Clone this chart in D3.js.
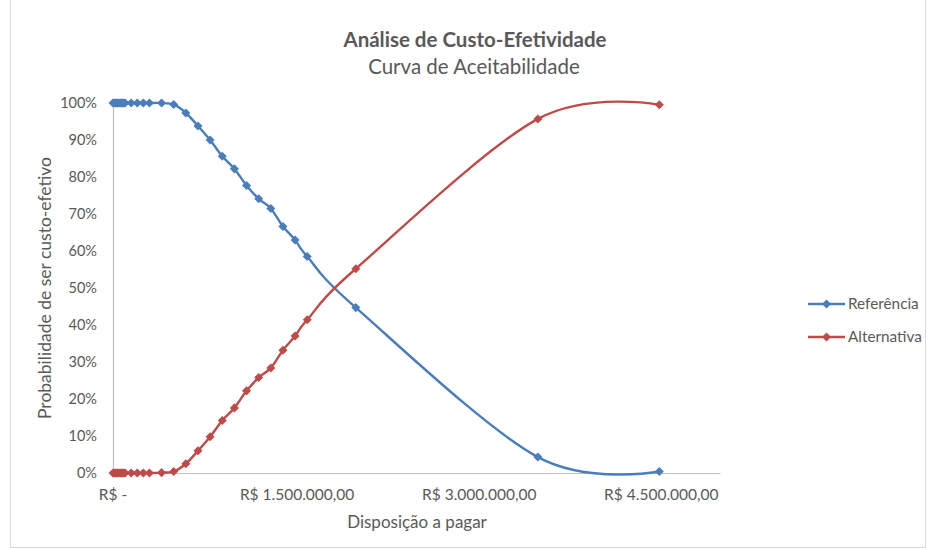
<!DOCTYPE html>
<html>
<head>
<meta charset="utf-8">
<script src="https://cdn.jsdelivr.net/npm/d3@7/dist/d3.min.js"></script>
<style>
  html, body { margin: 0; padding: 0; background: #fff; }
  svg { display: block; }
  text { font-family: Lato, "Open Sans", sans-serif; fill: #595959; }
</style>
</head>
<body>
<svg id="chart" width="927" height="549"></svg>
<script>
// Willingness-to-pay thresholds (R$)
const wtp = [
  0, 10000, 20000, 30000, 40000, 50000, 60000, 70000, 80000, 90000, 100000,
  150000, 200000, 250000, 300000, 400000, 500000,
  600000, 700000, 800000, 900000, 1000000, 1100000, 1200000, 1300000,
  1400000, 1500000, 1600000, 2000000, 3500000, 4500000
];

// Probability of each strategy being cost-effective
const referencia = [
  1, 1, 1, 1, 1, 1, 1, 1, 1, 1, 1,
  1, 1, 1, 1, 1, 0.996,
  0.973, 0.938, 0.900, 0.856, 0.822, 0.777, 0.741, 0.715,
  0.666, 0.630, 0.585, 0.447, 0.043, 0.004
];
const alternativa = [
  0, 0, 0, 0, 0, 0, 0, 0, 0, 0, 0,
  0, 0, 0, 0, 0.001, 0.004,
  0.025, 0.060, 0.098, 0.142, 0.176, 0.222, 0.258, 0.284,
  0.332, 0.370, 0.414, 0.552, 0.957, 0.995
];

const seriesNames = ["Referência", "Alternativa"];
const seriesColors = ["#4A7EBB", "#BE4B48"];
const xTicks = [0, 1500000, 3000000, 4500000];
const yTicks = [0, 0.1, 0.2, 0.3, 0.4, 0.5, 0.6, 0.7, 0.8, 0.9, 1];

const title = "Análise de Custo-Efetividade";
const subtitle = "Curva de Aceitabilidade";
const xTitle = "Disposição a pagar";
const yTitle = "Probabilidade de ser custo-efetivo";

const svg = d3.select("#chart");
const W = 927, H = 549;

// chart border
svg.append("rect")
  .attr("x", 10.5).attr("y", -1).attr("width", W - 12).attr("height", 548.5)
  .attr("fill", "#fff").attr("stroke", "#D9D9D9").attr("stroke-width", 1);

const x = d3.scaleLinear().domain([0, 5000000]).range([113, 720]);
const y = d3.scaleLinear().domain([0, 1]).range([473, 103]);

const brl = d3.formatLocale({ decimal: ",", thousands: ".", grouping: [3], currency: ["R$ ", ""] });
const fmtMoney = v => v === 0 ? "R$ -" : "R$ " + brl.format(",.2f")(v);
const fmtPct = d3.format(".0%");

// x axis
const xAxis = svg.append("g").attr("transform", `translate(0,${y(0)})`)
  .call(d3.axisBottom(x).tickValues(xTicks).tickFormat(fmtMoney).tickSize(0).tickPadding(16));
xAxis.select(".domain").attr("stroke", "#BFBFBF").attr("stroke-width", 1.2);
xAxis.selectAll("text").attr("font-size", 15.5).attr("fill", "#595959")
  .style("font-family", "Lato, sans-serif");
xAxis.selectAll(".tick").attr("transform", d => `translate(${x(d) + (d === 0 ? 0 : 2)},0)`);

// y axis
const yAxis = svg.append("g").attr("transform", `translate(${x(0)},0)`)
  .call(d3.axisLeft(y).tickValues(yTicks).tickFormat(fmtPct).tickSize(0).tickPadding(16));
yAxis.select(".domain").attr("stroke", "#BFBFBF").attr("stroke-width", 1.2);
yAxis.selectAll("text").attr("font-size", 14.5).attr("fill", "#595959")
  .style("font-family", "Lato, sans-serif");

// titles
svg.append("text").attr("x", 475).attr("y", 47).attr("text-anchor", "middle")
  .attr("font-size", 20.5).attr("font-weight", "bold").text(title);
svg.append("text").attr("x", 474).attr("y", 74).attr("text-anchor", "middle")
  .attr("font-size", 20.5).text(subtitle);
svg.append("text").attr("x", 417).attr("y", 528).attr("text-anchor", "middle")
  .attr("font-size", 17).text(xTitle);
svg.append("text").attr("transform", "translate(51,288) rotate(-90)")
  .attr("text-anchor", "middle").attr("font-size", 17.5).text(yTitle);

// series
const series = [referencia, alternativa].map((vals, i) => ({
  name: seriesNames[i], color: seriesColors[i],
  points: wtp.map((w, j) => [w, vals[j]])
}));

const line = d3.line().x(d => x(d[0])).y(d => y(d[1])).curve(d3.curveCardinal.tension(0));
const diamond = d3.symbol().type(d3.symbolDiamond2).size(52);

series.forEach(s => {
  const g = svg.append("g");
  g.append("path").attr("d", line(s.points)).attr("fill", "none")
    .attr("stroke", s.color).attr("stroke-width", 2.4).attr("stroke-linecap", "round");
  g.selectAll("path.m").data(s.points).join("path").attr("class", "m")
    .attr("transform", d => `translate(${x(d[0])},${y(d[1])})`)
    .attr("d", diamond).attr("fill", s.color);
});

// legend
const legend = svg.append("g");
series.forEach((s, i) => {
  const ly = 304 + i * 33;
  legend.append("line").attr("x1", 808).attr("x2", 845).attr("y1", ly).attr("y2", ly)
    .attr("stroke", s.color).attr("stroke-width", 2.4);
  legend.append("path").attr("transform", `translate(826.5,${ly})`).attr("d", diamond).attr("fill", s.color);
  legend.append("text").attr("x", 848).attr("y", ly + 5).attr("font-size", 15.3).text(s.name);
});
</script>
</body>
</html>
